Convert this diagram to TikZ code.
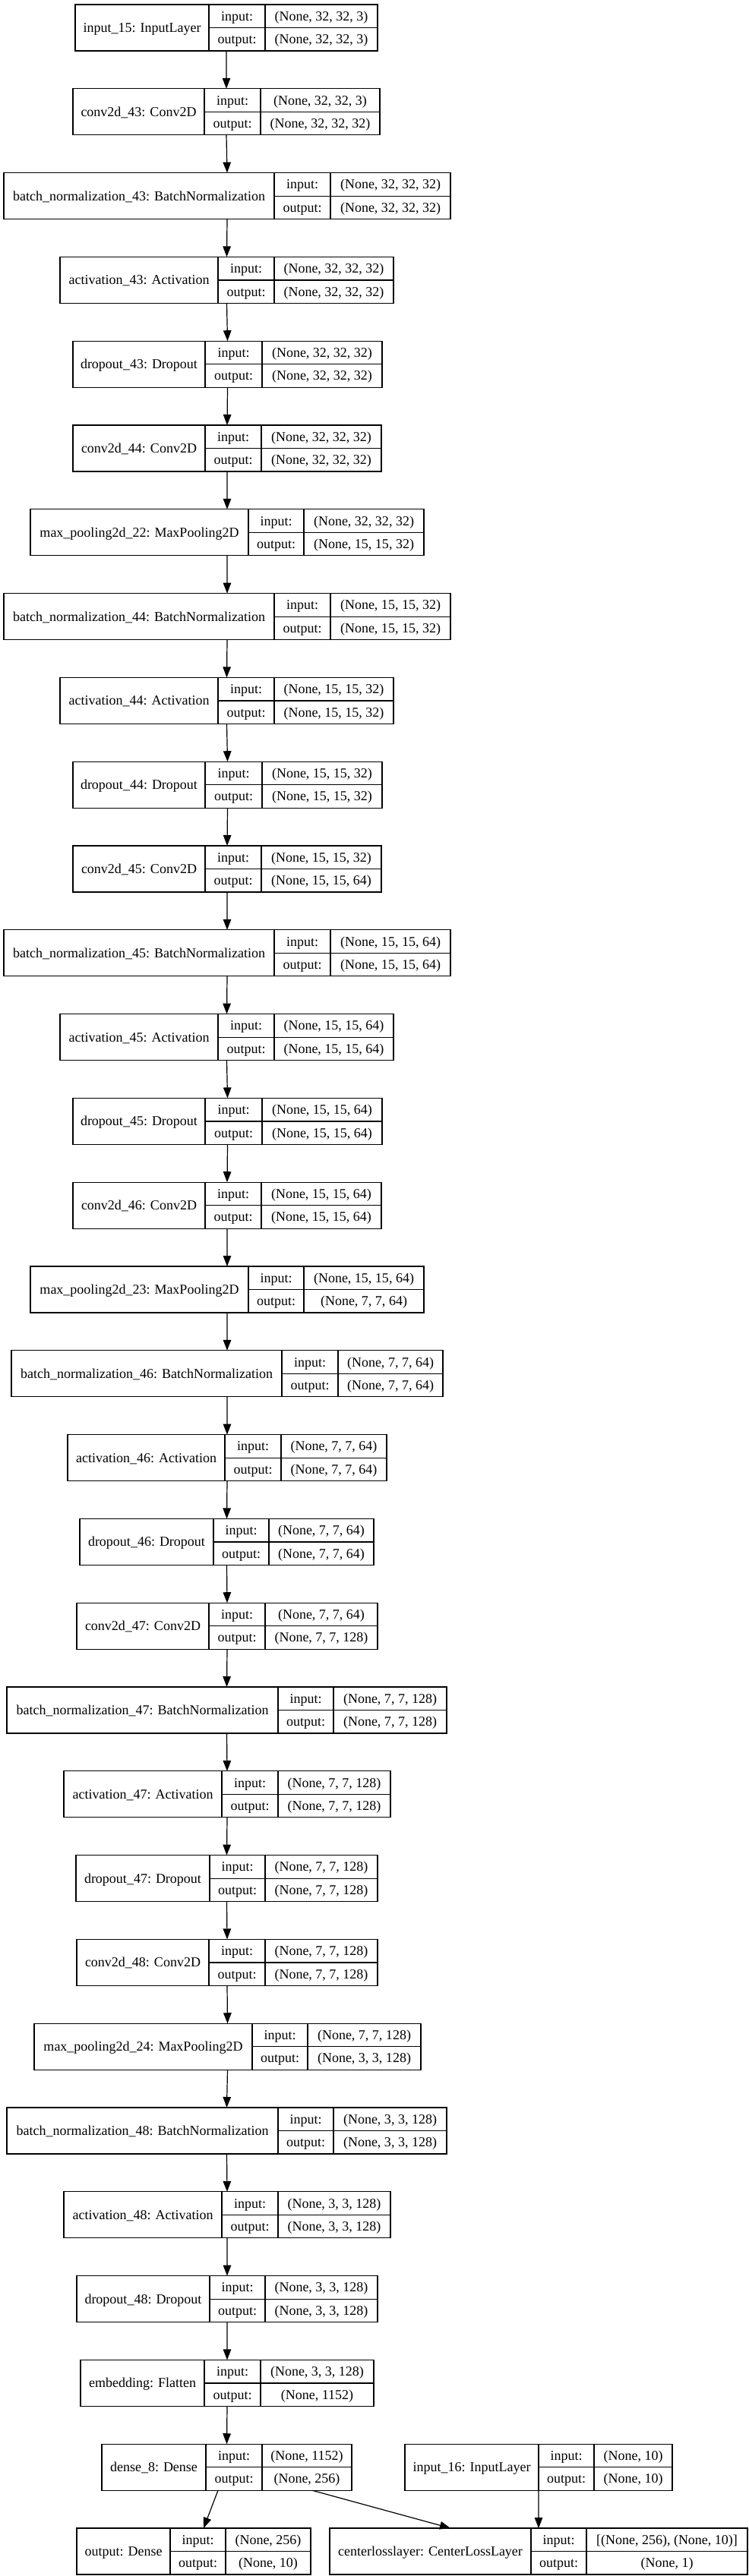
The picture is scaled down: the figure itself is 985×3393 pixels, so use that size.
\documentclass[tikz,border=0pt]{standalone}
\usepackage{fontspec}
\setmainfont{Liberation Serif}
\usetikzlibrary{arrows.meta}
\tikzset{
  lbox/.style={draw, line width=1.2bp, inner sep=0pt, outer sep=0pt, anchor=north west},
  divl/.style={line width=1.2bp},
  ltxt/.style={inner sep=0pt, anchor=base, font=\fontsize{18bp}{20bp}\selectfont},
  flow/.style={-{Triangle[length=14bp,width=10.5bp]}, line width=1.2bp},
}
% id, row, x0, x1, x2, x3, name, in, out
\newcommand{\klayer}[9]{%
  \pgfmathsetmacro{\yt}{6+#2*110.8}%
  \pgfmathsetmacro{\yb}{\yt+61}%
  \pgfmathsetmacro{\ym}{\yt+30.5}%
  \pgfmathsetmacro{\yi}{\yt+15.25+6}%
  \pgfmathsetmacro{\yo}{\yt+45.75+6}%
  \pgfmathsetmacro{\yn}{\yt+30.5+6}%
  \pgfmathsetmacro{\bw}{#6-#3}%
  \pgfmathsetmacro{\xn}{(#3+#4)/2}%
  \pgfmathsetmacro{\xl}{(#4+#5)/2}%
  \pgfmathsetmacro{\xv}{(#5+#6)/2}%
  \node[lbox, minimum width=\bw bp, minimum height=61bp] (#1) at (#3,\yt) {};
  \draw[divl] (#4,\yt) -- (#4,\yb);
  \draw[divl] (#5,\yt) -- (#5,\yb);
  \draw[divl] (#4,\ym) -- (#6,\ym);
  \node[ltxt] (#1n) at (\xn,\yn) {#7};
  \node[ltxt] (#1i) at (\xl,\yi) {input:};
  \node[ltxt] (#1o) at (\xl,\yo) {output:};
  \node[ltxt] (#1a) at (\xv,\yi) {#8};
  \node[ltxt] (#1b) at (\xv,\yo) {#9};
}
\begin{document}
\begin{tikzpicture}[x=1bp, y=-1bp]
\useasboundingbox (0,0) rectangle (985,3393);
\klayer{inp15}{0}{99}{275}{349}{497}{input\_15: InputLayer}{(None, 32, 32, 3)}{(None, 32, 32, 3)}
\klayer{c43}{1}{96}{269}{343}{500}{conv2d\_43: Conv2D}{(None, 32, 32, 3)}{(None, 32, 32, 32)}
\klayer{bn43}{2}{5}{361}{435}{593}{batch\_normalization\_43: BatchNormalization}{(None, 32, 32, 32)}{(None, 32, 32, 32)}
\klayer{a43}{3}{79}{287}{361}{518}{activation\_43: Activation}{(None, 32, 32, 32)}{(None, 32, 32, 32)}
\klayer{d43}{4}{96}{270}{345}{503}{dropout\_43: Dropout}{(None, 32, 32, 32)}{(None, 32, 32, 32)}
\klayer{c44}{5}{96}{270}{344}{502}{conv2d\_44: Conv2D}{(None, 32, 32, 32)}{(None, 32, 32, 32)}
\klayer{mp22}{6}{40}{327}{400}{558}{max\_pooling2d\_22: MaxPooling2D}{(None, 32, 32, 32)}{(None, 15, 15, 32)}
\klayer{bn44}{7}{5}{361}{435}{593}{batch\_normalization\_44: BatchNormalization}{(None, 15, 15, 32)}{(None, 15, 15, 32)}
\klayer{a44}{8}{79}{287}{361}{518}{activation\_44: Activation}{(None, 15, 15, 32)}{(None, 15, 15, 32)}
\klayer{d44}{9}{96}{270}{345}{503}{dropout\_44: Dropout}{(None, 15, 15, 32)}{(None, 15, 15, 32)}
\klayer{c45}{10}{96}{270}{344}{502}{conv2d\_45: Conv2D}{(None, 15, 15, 32)}{(None, 15, 15, 64)}
\klayer{bn45}{11}{5}{361}{435}{593}{batch\_normalization\_45: BatchNormalization}{(None, 15, 15, 64)}{(None, 15, 15, 64)}
\klayer{a45}{12}{79}{287}{361}{518}{activation\_45: Activation}{(None, 15, 15, 64)}{(None, 15, 15, 64)}
\klayer{d45}{13}{96}{270}{345}{503}{dropout\_45: Dropout}{(None, 15, 15, 64)}{(None, 15, 15, 64)}
\klayer{c46}{14}{96}{270}{344}{502}{conv2d\_46: Conv2D}{(None, 15, 15, 64)}{(None, 15, 15, 64)}
\klayer{mp23}{15}{40}{327}{400}{558}{max\_pooling2d\_23: MaxPooling2D}{(None, 15, 15, 64)}{(None, 7, 7, 64)}
\klayer{bn46}{16}{15}{371}{445}{583}{batch\_normalization\_46: BatchNormalization}{(None, 7, 7, 64)}{(None, 7, 7, 64)}
\klayer{a46}{17}{89}{296}{370}{509}{activation\_46: Activation}{(None, 7, 7, 64)}{(None, 7, 7, 64)}
\klayer{d46}{18}{105}{281}{354}{492}{dropout\_46: Dropout}{(None, 7, 7, 64)}{(None, 7, 7, 64)}
\klayer{c47}{19}{101}{275}{349}{497}{conv2d\_47: Conv2D}{(None, 7, 7, 64)}{(None, 7, 7, 128)}
\klayer{bn47}{20}{9}{366}{439}{588}{batch\_normalization\_47: BatchNormalization}{(None, 7, 7, 128)}{(None, 7, 7, 128)}
\klayer{a47}{21}{84}{292}{366}{514}{activation\_47: Activation}{(None, 7, 7, 128)}{(None, 7, 7, 128)}
\klayer{d47}{22}{100}{276}{349}{497}{dropout\_47: Dropout}{(None, 7, 7, 128)}{(None, 7, 7, 128)}
\klayer{c48}{23}{101}{275}{349}{497}{conv2d\_48: Conv2D}{(None, 7, 7, 128)}{(None, 7, 7, 128)}
\klayer{mp24}{24}{45}{332}{405}{554}{max\_pooling2d\_24: MaxPooling2D}{(None, 7, 7, 128)}{(None, 3, 3, 128)}
\klayer{bn48}{25}{9}{366}{439}{588}{batch\_normalization\_48: BatchNormalization}{(None, 3, 3, 128)}{(None, 3, 3, 128)}
\klayer{a48}{26}{84}{292}{366}{514}{activation\_48: Activation}{(None, 3, 3, 128)}{(None, 3, 3, 128)}
\klayer{d48}{27}{101}{276}{349}{497}{dropout\_48: Dropout}{(None, 3, 3, 128)}{(None, 3, 3, 128)}
\klayer{emb}{28}{106}{269}{343}{492}{embedding: Flatten}{(None, 3, 3, 128)}{(None, 1152)}
\klayer{dense}{29}{134}{271}{345}{463}{dense\_8: Dense}{(None, 1152)}{(None, 256)}
\klayer{in16}{29}{533}{709}{782}{885}{input\_16: InputLayer}{(None, 10)}{(None, 10)}
\klayer{outl}{30}{101}{224}{297}{409}{output: Dense}{(None, 256)}{(None, 10)}
\klayer{cl}{30}{434}{699}{772}{984}{centerlosslayer: CenterLossLayer}{[(None, 256), (None, 10)]}{(None, 1)}
\foreach \a/\b in {inp15/c43, c43/bn43, bn43/a43, a43/d43, d43/c44, c44/mp22, mp22/bn44,
  bn44/a44, a44/d44, d44/c45, c45/bn45, bn45/a45, a45/d45, d45/c46, c46/mp23, mp23/bn46,
  bn46/a46, a46/d46, d46/c47, c47/bn47, bn47/a47, a47/d47, d47/c48, c48/mp24, mp24/bn48,
  bn48/a48, a48/d48, d48/emb, emb/dense}
  \draw[flow] (\a.south) -- (\b.north);
\draw[flow] ([xshift=-11.5bp]dense.south) -- ([xshift=13bp]outl.north);
\draw[flow] ([xshift=112.5bp]dense.south) -- ([xshift=-116bp]cl.north);
\draw[flow] (in16.south) -- (cl.north);
\end{tikzpicture}
\end{document}
